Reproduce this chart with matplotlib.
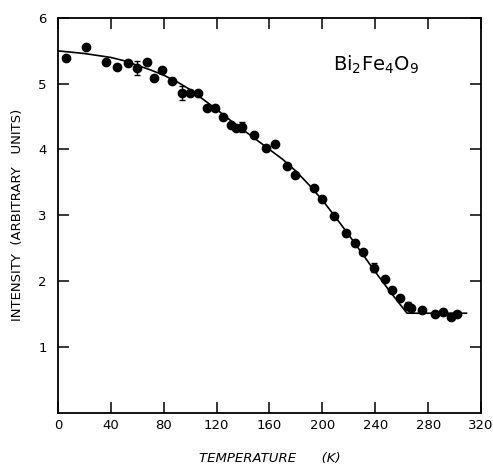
#!/usr/bin/env python3
"""Bi2Fe4O9 magnetic peak intensity vs temperature."""

import numpy as np
import matplotlib
matplotlib.use("Agg")
import matplotlib.pyplot as plt

temp = [6, 21, 36, 45, 53, 60, 67, 73, 79, 86, 94, 100, 106, 113, 119, 125,
        131, 135, 139, 148, 157, 164, 173, 179, 194, 200, 209, 218, 225, 231,
        239, 247, 253, 259, 265, 267, 275, 285, 291, 297, 302]
intensity = [5.39, 5.56, 5.33, 5.25, 5.32, 5.24, 5.33, 5.09, 5.21, 5.04, 4.86,
             4.86, 4.86, 4.63, 4.63, 4.49, 4.37, 4.33, 4.34, 4.22, 4.02, 4.08,
             3.75, 3.61, 3.41, 3.25, 2.99, 2.73, 2.58, 2.44, 2.20, 2.03, 1.86,
             1.74, 1.62, 1.59, 1.56, 1.50, 1.53, 1.45, 1.50]

# points drawn with error bars
err_temp = [60, 94, 139, 239, 265]
err_int = [5.24, 4.86, 4.34, 2.20, 1.62]
err_size = [0.10, 0.10, 0.08, 0.07, 0.06]

# fitted curve (traced)
fit_temp = [0, 10, 20, 30, 40, 50, 60, 70, 80, 90, 100, 110, 120, 130, 140,
            150, 160, 170, 180, 190, 200, 210, 220, 230, 240, 250, 264, 309]
fit_int = [5.50, 5.48, 5.46, 5.43, 5.40, 5.35, 5.28, 5.21, 5.13, 5.03, 4.91,
           4.76, 4.61, 4.45, 4.30, 4.15, 4.00, 3.85, 3.67, 3.46, 3.23, 2.97,
           2.70, 2.42, 2.14, 1.87, 1.51, 1.51]

fig = plt.figure(figsize=(4.93, 4.65), dpi=100)
ax = fig.add_axes([0.1176, 0.1129, 0.8581, 0.8484])

ax.plot(fit_temp, fit_int, color="black", lw=1.2)
ax.plot(temp, intensity, "o", color="black", ms=6, mec="black")
ax.errorbar(err_temp, err_int, yerr=err_size, fmt="none", ecolor="black",
            elinewidth=1.0, capsize=2.5, capthick=1.0)

ax.set_xlim(0, 320)
ax.set_ylim(0, 6)
ax.set_xticks(np.arange(0, 321, 40))
ax.set_yticks([1, 2, 3, 4, 5, 6])
ax.tick_params(direction="in", length=8, width=1.1, top=True, right=True,
               labelsize=9.5, pad=5)
ax.tick_params(axis="y", pad=8)
for s in ax.spines.values():
    s.set_linewidth(1.3)

ax.text(208, 5.2, r"Bi$_2$Fe$_4$O$_9$", fontsize=14)

ax.set_xlabel("TEMPERATURE      (K)", fontsize=9.5, style="italic", labelpad=14)
ax.set_ylabel("INTENSITY  (ARBITRARY   UNITS)", fontsize=9.5, labelpad=10)

fig.savefig("out.png", dpi=100)
